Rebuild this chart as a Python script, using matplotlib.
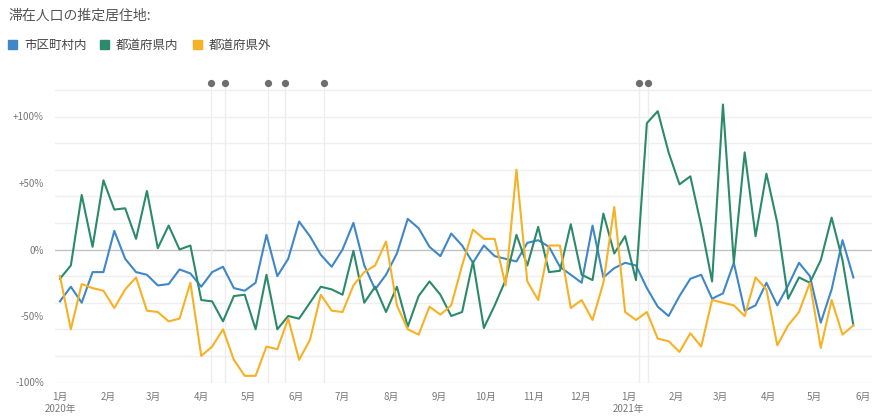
import matplotlib.pyplot as plt
import pandas as pd
from matplotlib.patches import Rectangle

plt.rcParams['font.family'] = ['Noto Sans CJK JP', 'DejaVu Sans']

# weekly change vs. baseline (%), by estimated home area of visitors
weeks = pd.date_range("2020-01-01", periods=74, freq="7D")

city = [-39, -28, -40, -17, -17, 14, -7, -17, -19, -27, -26, -15, -18, -28, -17,
        -13, -29, -31, -25, 11, -20, -7, 21, 10, -4, -13, 0, 20, -12, -30,
        -19, -3, 23, 16, 2, -5, 12, 3, -10, 3, -5, -7, -9, 5, 7,
        2, -13, -19, -25, 18, -21, -14, -10, -12, -29, -43, -50, -35, -22, -19,
        -37, -33, -10, -46, -42, -25, -42, -27, -10, -20, -55, -30, 7, -21]

prefecture = [-22, -12, 41, 2, 52, 30, 31, 8, 44, 1, 18, 0, 3, -38, -39,
              -54, -35, -34, -60, -19, -60, -50, -52, -40, -28, -30, -34, -1, -40, -28,
              -47, -28, -58, -35, -24, -34, -50, -47, -9, -59, -42, -23, 11, -12, 17,
              -17, -16, 19, -19, -23, 27, -3, 10, -23, 95, 104, 73, 49, 55, 18,
              -24, 109, -10, 73, 10, 57, 20, -37, -21, -25, -8, 24, -8, -57]

outside = [-20, -60, -26, -29, -31, -44, -30, -21, -46, -47, -54, -52, -25, -80, -73,
           -60, -83, -95, -95, -73, -75, -52, -83, -68, -34, -46, -47, -27, -17, -12,
           6, -42, -60, -64, -43, -49, -42, -12, 15, 8, 8, -27, 60, -24, -38,
           3, 3, -44, -38, -53, -25, 32, -47, -53, -47, -67, -69, -77, -63, -73,
           -38, -40, -42, -50, -21, -30, -72, -57, -47, -25, -74, -38, -64, -57]

series_names = ["市区町村内", "都道府県内", "都道府県外"]
series_colors = ["#3f87c6", "#2b8a6c", "#f7b124"]

# dates of the emergency declarations / lifting steps
events = pd.to_datetime(["2020-04-07", "2020-04-16", "2020-05-14", "2020-05-25",
                         "2020-06-19", "2021-01-08", "2021-01-14"])

months = pd.date_range("2020-01-01", "2021-06-01", freq="MS")
month_labels = [f"{d.month}月" for d in months]
years = pd.to_datetime(["2020-01-01", "2021-01-01"])
year_labels = ["2020年", "2021年"]

ytick_vals = [-100, -50, 0, 50, 100]
ytick_labels = ["-100%", "-50%", "0%", "+50%", "+100%"]
grid_vals = list(range(-100, 121, 20))

W, H = 877, 416
fig = plt.figure(figsize=(W / 100, H / 100), dpi=100)
ax = fig.add_axes([55 / W, (H - 382.5) / H, (872 - 55) / W, (382.5 - 76.6) / H])

for v in grid_vals:
    ax.axhline(v, color="#c2c2c2" if v == 0 else "#efefef", lw=1.0, zorder=0)

ax.vlines(events, -100, 125, color="#ededed", lw=1.0, zorder=0)
ax.plot(events, [125] * len(events), "o", color="#6e6e6e", ms=4.2,
        clip_on=False, zorder=3)

for vals, name, c in zip([city, prefecture, outside], series_names, series_colors):
    ax.plot(weeks, vals, color=c, lw=1.5, label=name, zorder=2)

ax.set_xlim(weeks[0] - pd.Timedelta(days=3.2), weeks[0] + pd.Timedelta(days=523))
ax.set_ylim(-100, 130)

ax.set_xticks(months)
ax.set_xticklabels(month_labels, fontsize=7, color="#777777")
ax.set_yticks(ytick_vals)
ax.set_yticklabels(ytick_labels, fontsize=7, color="#777777")
ax.tick_params(axis="x", length=0, pad=7)
ax.tick_params(axis="y", length=0, pad=8)
for s in ax.spines.values():
    s.set_visible(False)

for d, lab in zip(years, year_labels):
    ax.annotate(lab, xy=(d, 0), xycoords=("data", "axes fraction"),
                xytext=(0, -19), textcoords="offset points",
                ha="center", va="center", fontsize=7, color="#777777",
                annotation_clip=False)

fig.text(8 / W, 1 - 16 / H, "滞在人口の推定居住地:", fontsize=10,
         color="#555555", va="center")

legend_x = [8, 100, 193]
for x0, name, c in zip(legend_x, series_names, series_colors):
    fig.add_artist(Rectangle((x0 / W, 1 - 49 / H), 9 / W, 9 / H,
                             transform=fig.transFigure, color=c))
    fig.text((x0 + 16) / W, 1 - 45 / H, name, fontsize=9,
             color="#444444", va="center")

fig.savefig("out.png", dpi=100)
